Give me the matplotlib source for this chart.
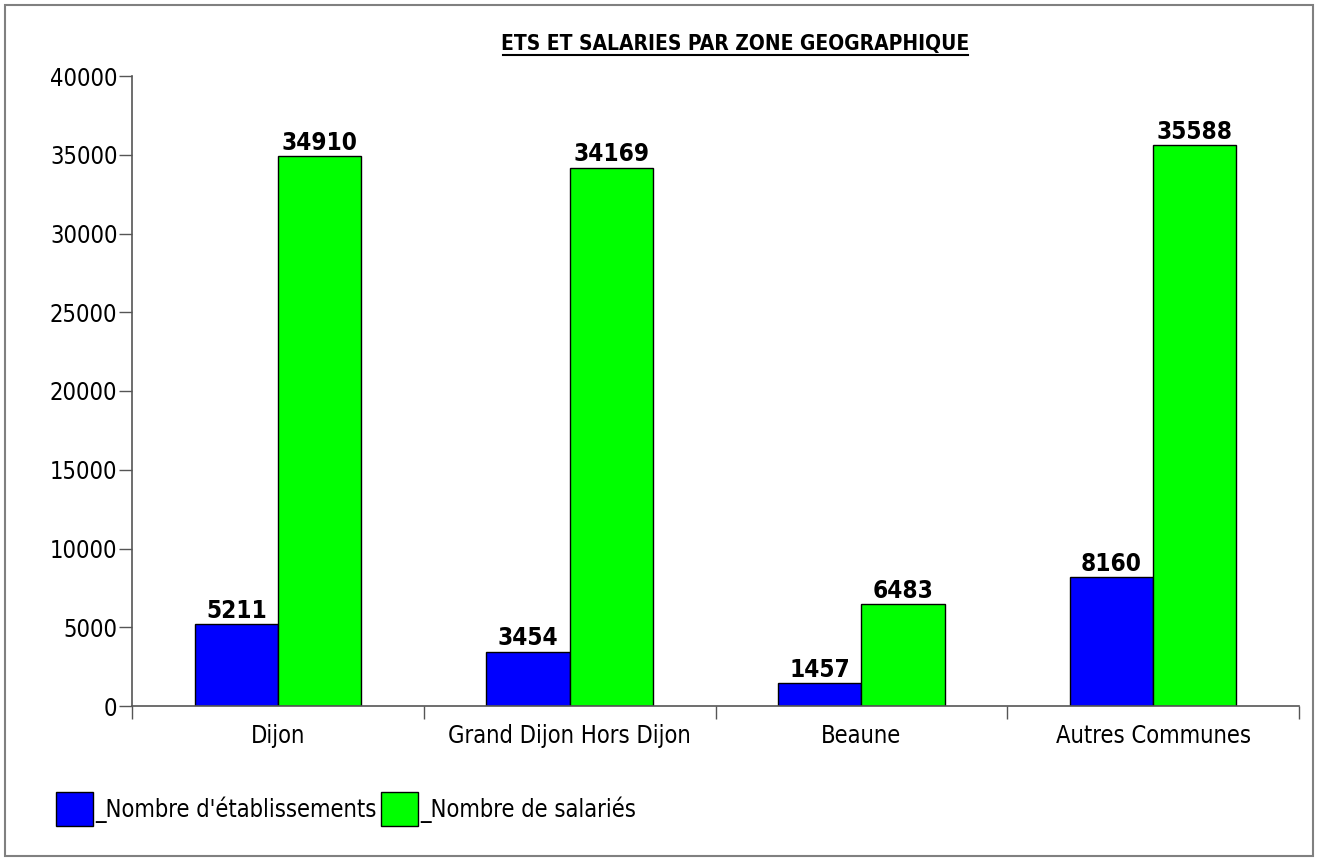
import numpy as np
import matplotlib
matplotlib.use("Agg")
import matplotlib.pyplot as plt
from matplotlib.patches import Rectangle

# --- data ---
zones = ["Dijon", "Grand Dijon Hors Dijon", "Beaune", "Autres Communes"]
etablissements = [5211, 3454, 1457, 8160]
salaries = [34910, 34169, 6483, 35588]
series_names = ["_Nombre d'établissements", "_Nombre de salariés"]
y_ticks = [0, 5000, 10000, 15000, 20000, 25000, 30000, 35000, 40000]

plt.rcParams['font.family'] = ['DejaVu Sans']
plt.rcParams['font.stretch'] = 'condensed'

W, H = 1318, 861
fig = plt.figure(figsize=(W / 100, H / 100), dpi=100)
fig.patch.set_facecolor("white")

# grey frame round the whole picture
fig.add_artist(Rectangle((5 / W, 5 / H), 1 - 10 / W, 1 - 10 / H, transform=fig.transFigure,
						 fill=False, edgecolor="#808080", lw=1.5))

ax = fig.add_axes([132 / W, 1 - 706 / H, (1299 - 132) / W, (706 - 76) / H])

x = np.arange(len(zones))
bw = 0.285
b1 = ax.bar(x - bw / 2, etablissements, bw, color="#0000ff", edgecolor="black", lw=1, zorder=2)
b2 = ax.bar(x + bw / 2, salaries, bw, color="#00ff00", edgecolor="black", lw=1, zorder=2)

for bars, vals in [(b1, etablissements), (b2, salaries)]:
	for rect, v in zip(bars, vals):
		ax.annotate(str(v), (rect.get_x() + rect.get_width() / 2, v), xytext=(0, 1),
					textcoords="offset points", ha="center", va="bottom",
					fontsize=17.5, fontweight="bold")

ax.set_xlim(-0.5, len(zones) - 0.5)
ax.set_ylim(0, 40000)
ax.set_yticks(y_ticks)
ax.set_yticklabels([str(t) for t in y_ticks])

# boundaries get the tick marks, centres get the labels
ax.set_xticks(np.arange(len(zones) + 1) - 0.5)
ax.set_xticklabels([])
ax.set_xticks(x, minor=True)
ax.set_xticklabels(zones, minor=True)
ax.tick_params(axis="x", which="major", direction="out", length=9, width=1, color="#555555")
ax.tick_params(axis="x", which="minor", length=0, pad=13, labelsize=17)
ax.tick_params(axis="y", direction="out", length=9.5, width=1, color="#555555", pad=1, labelsize=17)

for s in ["top", "right"]:
	ax.spines[s].set_visible(False)
for s in ["left", "bottom"]:
	ax.spines[s].set_color("#555555")
	ax.spines[s].set_linewidth(1.2)

fig.text(735.5 / W, 1 - 44 / H, "ETS ET SALARIES PAR ZONE GEOGRAPHIQUE",
		 ha="center", va="center", fontsize=15, fontweight="bold")
# underline under the title
fig.add_artist(plt.Line2D([503 / W, 968 / W], [1 - 55 / H, 1 - 55 / H], color="black", lw=1.5))

leg = fig.legend([b1[0], b2[0]], series_names, loc="center left",
				 bbox_to_anchor=(56 / W, 1 - 809 / H), ncol=2, frameon=False, fontsize=17,
				 handlelength=1.55, handleheight=1.85, handletextpad=0.1, columnspacing=0.2,
				 borderpad=0, borderaxespad=0)

fig.savefig("out.png", dpi=100)
